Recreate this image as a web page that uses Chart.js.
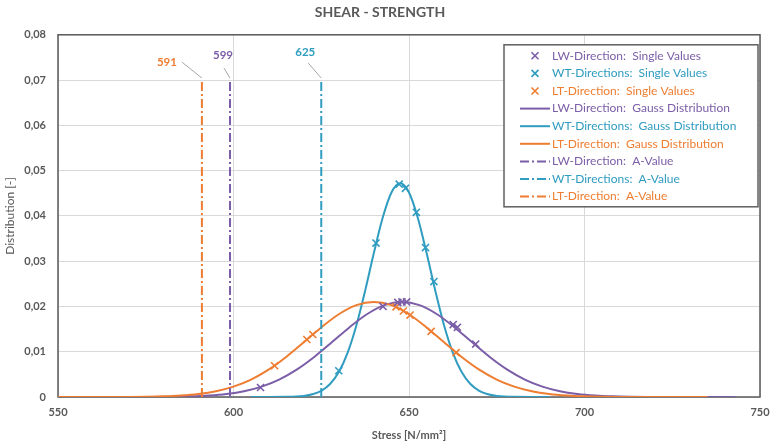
<!DOCTYPE html>
<html>
<head>
<meta charset="utf-8">
<script src="https://cdn.jsdelivr.net/npm/chart.js@4.4.1/dist/chart.umd.min.js"></script>
<style>
  html, body { margin: 0; padding: 0; background: #fff; }
</style>
</head>
<body>
<canvas id="chartShear" width="772" height="445"></canvas>
<script>
// ── Series data ──
const lwGaussX = [558,563,568,573,578,583,588,593,598,603,608,613,618,623,628,633,638,643,648,
                  653,658,663,668,673,678,683,688,693,698,703,708,713,718,723,728,733,738,743];
const lwGaussY = [0,0.000001,0.000003,0.000009,0.000024,0.00006,0.00014,0.00032,0.00066,0.00127,
                  0.00229,0.00385,0.00604,0.00884,0.01207,0.01537,0.01828,0.02029,0.0210,
                  0.02029,0.01828,0.01537,0.01207,0.00884,0.00604,0.00385,0.00229,0.00127,0.00066,
                  0.00032,0.00014,0.00006,0.000024,0.000009,0.000003,0.000001,0,0];

const wtGaussX = [605,610,615,620,622.5,625,627.5,630,632.5,635,637.5,640,642.5,645,647.5,
                  650,652.5,655,657.5,660,662.5,665,667.5,670,672.5,675,680,685,690];
const wtGaussY = [0,0.0000025,0.000029,0.00024,0.00059,0.00136,0.00287,0.00553,0.00976,0.0158,
                  0.02344,0.03184,0.0396,0.04518,0.0472,0.04518,0.0396,0.03184,0.02344,0.0158,
                  0.00976,0.00553,0.00287,0.00136,0.00059,0.00024,0.000029,0.0000025,0];

const ltGaussX = [550,555,560,565,570,575,580,585,590,595,600,605,610,615,620,625,630,635,640,
                  645,650,655,660,665,670,675,680,685,690,695,700,705,710,715,720,725,730,735];
const ltGaussY = [0,0.000001,0.000003,0.000009,0.000024,0.00006,0.00014,0.00032,0.00066,0.00127,
                  0.00229,0.00385,0.00604,0.00884,0.01207,0.01537,0.01828,0.02029,0.0210,
                  0.02029,0.01828,0.01537,0.01207,0.00884,0.00604,0.00385,0.00229,0.00127,0.00066,
                  0.00032,0.00014,0.00006,0.000024,0.000009,0.000003,0.000001,0,0];

const lwSingleX = [607.7, 642.6, 646.8, 648.0, 649.3, 662.6, 663.8, 669.0];
const lwSingleY = [0.0021, 0.0200, 0.0209, 0.0210, 0.0210, 0.0160, 0.0154, 0.0117];

const wtSingleX = [630.0, 640.6, 647.2, 649.0, 652.1, 654.7, 657.1];
const wtSingleY = [0.0058, 0.0340, 0.0470, 0.0461, 0.0408, 0.0330, 0.0255];

const ltSingleX = [611.7, 620.9, 622.6, 646.3, 648.4, 650.3, 656.3, 663.4];
const ltSingleY = [0.0069, 0.0127, 0.0138, 0.0199, 0.0190, 0.0181, 0.0145, 0.0098];

// A-values: LW, WT, LT
const aValueX   = [599, 625, 591];
const aValueTop = 0.07;

const xTicks = [550, 600, 650, 700, 750];

const cLW = '#7b5ea7';
const cWT = '#2f9cc0';
const cLT = '#ee7d31';
const txtGray = '#595959';
const fontFam = 'Lato, "Open Sans", sans-serif';
const aDash = [9, 3, 2, 3];

function zip(xs, ys) {
    return xs.map(function(x, i) { return { x: x, y: ys[i] }; });
}

function markerSet(label, xs, ys, color) {
    return {
        label: label, data: zip(xs, ys), showLine: false, order: 0,
        pointStyle: 'crossRot', pointRadius: 5, pointBorderWidth: 1.6,
        borderColor: color, backgroundColor: color, kind: 'marker'
    };
}
function gaussSet(label, xs, ys, color, ord) {
    return {
        label: label, data: zip(xs, ys), order: ord,
        borderColor: color, backgroundColor: color, borderWidth: 2,
        pointRadius: 0, cubicInterpolationMode: 'monotone', kind: 'line'
    };
}
function aValueSet(label, x, color, lbl) {
    return {
        label: label, data: [{ x: x, y: 0 }, { x: x, y: aValueTop }], order: 1,
        borderColor: color, backgroundColor: color, borderWidth: 2, borderDash: aDash,
        pointRadius: 0, kind: 'dash', valueLabel: lbl
    };
}

const datasets = [
    markerSet('LW-Direction:  Single Values', lwSingleX, lwSingleY, cLW),
    markerSet('WT-Directions:  Single Values', wtSingleX, wtSingleY, cWT),
    markerSet('LT-Direction:  Single Values', ltSingleX, ltSingleY, cLT),
    gaussSet('LW-Direction:  Gauss Distribution', lwGaussX, lwGaussY, cLW, 3),
    gaussSet('WT-Directions:  Gauss Distribution', wtGaussX, wtGaussY, cWT, 4),
    gaussSet('LT-Direction:  Gauss Distribution', ltGaussX, ltGaussY, cLT, 2),
    aValueSet('LW-Direction:  A-Value', aValueX[0], cLW, { dx: -7, dy: -25, lx1: -6, ly1: -12 }),
    aValueSet('WT-Directions:  A-Value', aValueX[1], cWT, { dx: -16, dy: -28, lx1: -13, ly1: -17 }),
    aValueSet('LT-Direction:  A-Value', aValueX[2], cLT, { dx: -35, dy: -18, lx1: -20, ly1: -18 })
];

// ── Plot frame (drawn under the series) ──
const plotFrame = {
    id: 'plotFrame',
    beforeDatasetsDraw(chart) {
        const a = chart.chartArea, ctx = chart.ctx;
        ctx.save();
        ctx.strokeStyle = txtGray;
        ctx.lineWidth = 1.5;
        ctx.strokeRect(a.left, a.top, a.right - a.left, a.bottom - a.top);
        ctx.restore();
    }
};

// ── A-value labels with leader lines ──
const aValueLabels = {
    id: 'aValueLabels',
    afterDatasetsDraw(chart) {
        const ctx = chart.ctx, xs = chart.scales.x, ys = chart.scales.y;
        ctx.save();
        chart.data.datasets.forEach(function(ds) {
            if (ds.kind !== 'dash') return;
            const px = xs.getPixelForValue(ds.data[1].x);
            const py = ys.getPixelForValue(ds.data[1].y);
            const o = ds.valueLabel;
            ctx.strokeStyle = '#a6a6a6';
            ctx.lineWidth = 1;
            ctx.beginPath();
            ctx.moveTo(px + o.lx1, py + o.ly1);
            ctx.lineTo(px, py - 2);
            ctx.stroke();
            ctx.fillStyle = ds.borderColor;
            ctx.font = 'bold 11.5px ' + fontFam;
            ctx.textAlign = 'center';
            ctx.textBaseline = 'middle';
            ctx.fillText(String(ds.data[1].x), px + o.dx, py + o.dy);
        });
        ctx.restore();
    }
};

// ── Boxed legend inside the plot ──
const boxLegend = {
    id: 'boxLegend',
    afterDraw(chart) {
        const ctx = chart.ctx, a = chart.chartArea;
        const left = a.right - 256, top = a.top + 10, w = 254, h = 162;
        ctx.save();
        ctx.fillStyle = '#fff';
        ctx.fillRect(left, top, w, h);
        ctx.strokeStyle = '#606060';
        ctx.lineWidth = 1.5;
        ctx.strokeRect(left, top, w, h);
        ctx.font = '12px ' + fontFam;
        ctx.textBaseline = 'middle';
        ctx.textAlign = 'left';
        chart.data.datasets.forEach(function(ds, i) {
            const y = top + 11 + i * 17.6;
            const sx = left + 16, ex = left + 46, cx = left + 31;
            ctx.strokeStyle = ds.borderColor;
            ctx.lineWidth = ds.kind === 'marker' ? 1.6 : 2;
            ctx.setLineDash(ds.kind === 'dash' ? aDash : []);
            ctx.beginPath();
            if (ds.kind === 'marker') {
                ctx.moveTo(cx - 3.5, y - 3.5); ctx.lineTo(cx + 3.5, y + 3.5);
                ctx.moveTo(cx - 3.5, y + 3.5); ctx.lineTo(cx + 3.5, y - 3.5);
            } else {
                ctx.moveTo(sx, y); ctx.lineTo(ex, y);
            }
            ctx.stroke();
            ctx.setLineDash([]);
            ctx.fillStyle = ds.borderColor;
            ctx.fillText(ds.label, left + 48, y);
        });
        ctx.restore();
    }
};

new Chart(document.getElementById('chartShear'), {
    type: 'line',
    data: { datasets: datasets },
    plugins: [plotFrame, aValueLabels, boxLegend],
    options: {
        responsive: false,
        animation: false,
        devicePixelRatio: 1,
        layout: { padding: { left: 0, right: 12, top: 0, bottom: 0 } },
        plugins: {
            legend: { display: false },
            tooltip: { enabled: false },
            title: {
                display: true, text: 'SHEAR - STRENGTH', color: txtGray,
                font: { family: fontFam, size: 14, weight: 'bold' },
                padding: { top: 4, bottom: 14 }
            }
        },
        scales: {
            x: {
                type: 'linear', min: 550, max: 750,
                afterBuildTicks: function(s) { s.ticks = xTicks.map(function(v) { return { value: v }; }); },
                afterFit: function(s) { s.height = 48; s.paddingLeft = 0; s.paddingRight = 0; },
                grid: { color: '#d9d9d9', drawTicks: false },
                border: { display: false },
                ticks: { padding: 9, color: txtGray, font: { family: fontFam, size: 11, weight: 'bold' }, maxRotation: 0 },
                title: { display: true, text: 'Stress [N/mm²]', color: txtGray,
                         font: { family: fontFam, size: 11, weight: 'bold' }, padding: { top: 2, bottom: 3 } }
            },
            y: {
                min: 0, max: 0.08,
                afterFit: function(s) { s.width = 58; },
                grid: { color: '#d9d9d9', drawTicks: false },
                border: { display: false },
                ticks: {
                    stepSize: 0.01, padding: 12, color: txtGray,
                    font: { family: fontFam, size: 11, weight: 'bold' },
                    callback: function(v) { return v === 0 ? '0' : v.toFixed(2).replace('.', ','); }
                },
                title: { display: true, text: 'Distribution [-]', color: txtGray,
                         font: { family: fontFam, size: 12 }, padding: { top: 3, bottom: 0 } }
            }
        }
    }
});
</script>
</body>
</html>
